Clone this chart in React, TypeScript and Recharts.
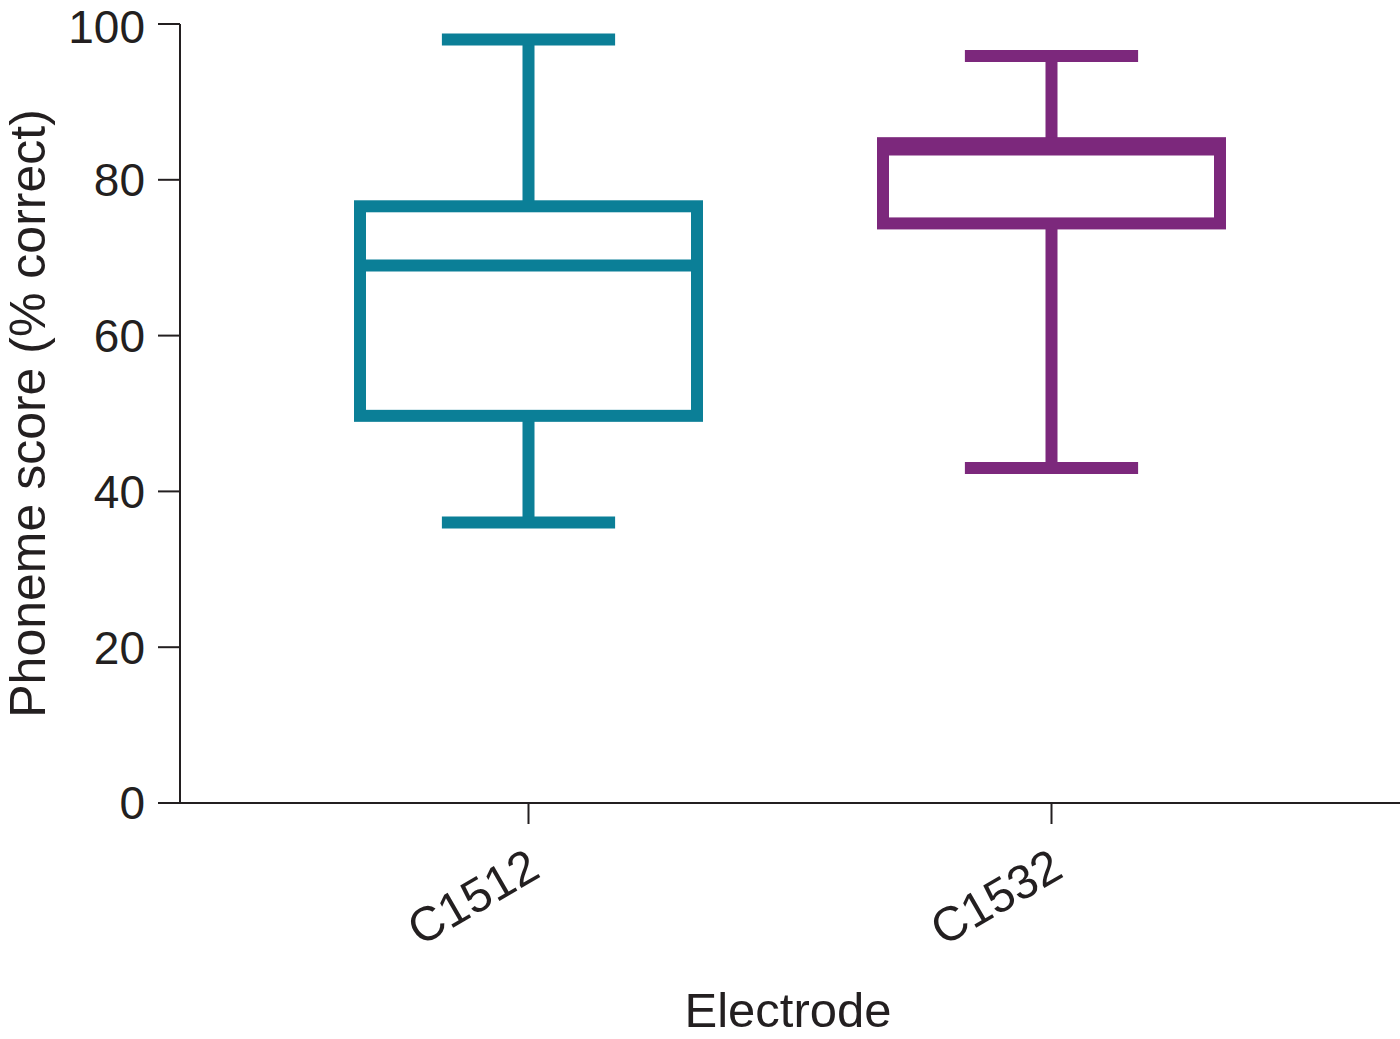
import React from 'react';
import { ComposedChart, Bar, XAxis, YAxis } from 'recharts';

const categories = ['C1512', 'C1532'];
const whiskerLow = [36, 43];
const q1Values = [49.7, 74.4];
const medianValues = [69, 83.9];
const q3Values = [76.6, 84.7];
const whiskerHigh = [98, 95.9];
const seriesColors = ['#0b7f97', '#7c287c'];
const yTicks = [0, 20, 40, 60, 80, 100];

const data = categories.map((name, i) => ({
  name,
  range: [whiskerLow[i], whiskerHigh[i]],
  low: whiskerLow[i],
  high: whiskerHigh[i],
  q1: q1Values[i],
  median: medianValues[i],
  q3: q3Values[i],
  color: seriesColors[i],
}));

const FONT = '"Liberation Sans", Arial, Helvetica, sans-serif';
const INK = '#231f20';
const SW = 12;

const BoxShape = (props: any) => {
  const { x, y, width, height, payload } = props;
  if (!payload) return null;
  const top = Math.min(y, y + height);
  const bottom = Math.max(y, y + height);
  const { low, high, q1, median, q3, color } = payload;
  const toPx = (v: number) => bottom - ((v - low) / (high - low)) * (bottom - top);
  const cx = x + width / 2;
  const capHalf = width * 0.257;
  const yHigh = toPx(high);
  const yLow = toPx(low);
  const yQ1 = toPx(q1);
  const yQ3 = toPx(q3);
  const yMed = toPx(median);
  return (
    <g>
      <line x1={cx} x2={cx} y1={yHigh} y2={yQ3} stroke={color} strokeWidth={SW} />
      <line x1={cx} x2={cx} y1={yQ1} y2={yLow} stroke={color} strokeWidth={SW} />
      <line x1={cx - capHalf} x2={cx + capHalf} y1={yHigh} y2={yHigh} stroke={color} strokeWidth={SW} />
      <line x1={cx - capHalf} x2={cx + capHalf} y1={yLow} y2={yLow} stroke={color} strokeWidth={SW} />
      <rect x={x} y={yQ3} width={width} height={yQ1 - yQ3} fill="#ffffff" stroke={color} strokeWidth={SW} />
      <line x1={x} x2={x + width} y1={yMed} y2={yMed} stroke={color} strokeWidth={SW} />
    </g>
  );
};

const XTick = (props: any) => {
  const { x, y, payload } = props;
  const ax = x + 14;
  const ay = y + 50;
  return (
    <text
      x={ax}
      y={ay}
      textAnchor="end"
      transform={`rotate(-30, ${ax}, ${ay})`}
      fontSize={48}
      fontFamily={FONT}
      fill={INK}
    >
      {payload.value}
    </text>
  );
};

const YLabel = (props: any) => {
  const vb = props.viewBox || {};
  const cy = vb.y + vb.height / 2;
  const lx = 45;
  return (
    <text
      x={lx}
      y={cy}
      textAnchor="middle"
      transform={`rotate(-90, ${lx}, ${cy})`}
      fontSize={50}
      fontFamily={FONT}
      fill={INK}
    >
      Phoneme score (% correct)
    </text>
  );
};

const XLabel = (props: any) => {
  const vb = props.viewBox || {};
  const cx = vb.x + vb.width / 2;
  return (
    <text x={cx - 2} y={1027} textAnchor="middle" fontSize={49} fontFamily={FONT} fill={INK}>
      Electrode
    </text>
  );
};

export default function App() {
  return (
    <div style={{ position: 'absolute', left: 0, top: 0, background: '#ffffff' }}>
      <ComposedChart
        width={1400}
        height={1039}
        data={data}
        margin={{ top: 24, right: 0, bottom: 36, left: 60 }}
      >
        <XAxis
          dataKey="name"
          type="category"
          height={200}
          padding={{ left: 87, right: 87 }}
          axisLine={{ stroke: INK, strokeWidth: 2 }}
          tickLine={{ stroke: INK, strokeWidth: 2 }}
          tickSize={21}
          tickMargin={2}
          tick={<XTick />}
          interval={0}
          label={<XLabel />}
        />
        <YAxis
          type="number"
          domain={[0, 100]}
          ticks={yTicks}
          width={120}
          axisLine={{ stroke: INK, strokeWidth: 2 }}
          tickLine={{ stroke: INK, strokeWidth: 2 }}
          tickSize={22}
          tickMargin={13}
          tick={{ fontSize: 46, fontFamily: FONT, fill: INK }}
          label={<YLabel />}
        />
        <Bar dataKey="range" barSize={337} shape={<BoxShape />} isAnimationActive={false} />
      </ComposedChart>
    </div>
  );
}
